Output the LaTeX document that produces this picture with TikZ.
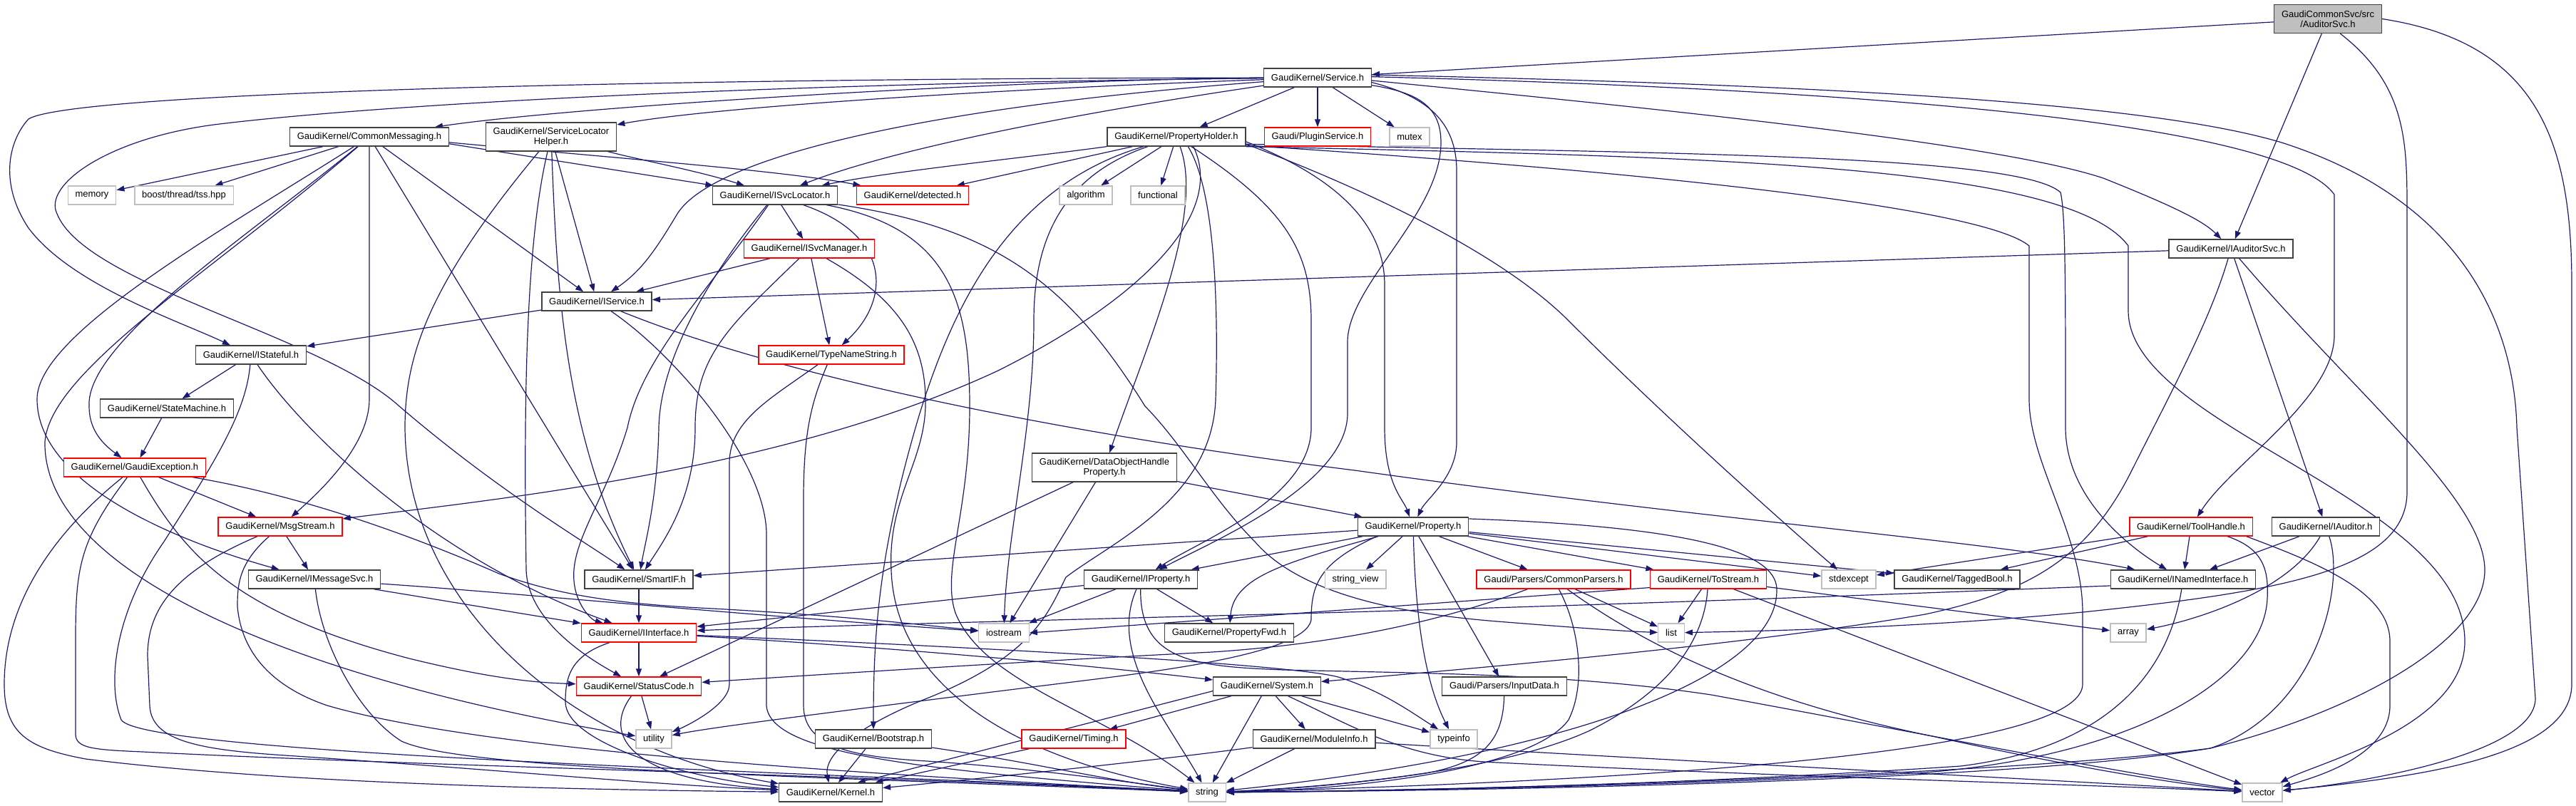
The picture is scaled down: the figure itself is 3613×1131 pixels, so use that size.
\documentclass[tikz,border=0pt]{standalone}
\usepackage{fontspec}
\newfontfamily\gfont{Liberation Sans}
\usetikzlibrary{arrows.meta,backgrounds}
\definecolor{edgeblue}{RGB}{25,25,112}
\begin{document}
\begin{tikzpicture}[x=1pt, y=-1pt,
	doc/.style = {draw=black!75, line width=1.4pt, fill=white, font=\gfont\fontsize{13}{14}\selectfont, inner xsep=10.3pt, inner ysep=3pt, minimum height=26pt},
	trunc/.style = {doc, draw=red},
	ext/.style = {doc, draw=black!25},
	rootn/.style = {doc, fill=black!25},
	dep/.style = {draw=edgeblue, line width=1.2pt, -{Triangle[length=11pt, width=8pt]}}]
	\useasboundingbox (0,0) rectangle (3613,1131);
	\node[rootn, align=center, minimum height=40pt] (root) at (3265,26.5) {GaudiCommonSvc/src\\/AuditorSvc.h};
	\node[doc] (svc) at (1848,109) {GaudiKernel/Service.h};
	\node[doc] (cmsg) at (518,192) {GaudiKernel/CommonMessaging.h};
	\node[doc, align=center, minimum height=40pt] (slh) at (773,192) {GaudiKernel/ServiceLocator\\Helper.h};
	\node[doc] (pholder) at (1650,192) {GaudiKernel/PropertyHolder.h};
	\node[trunc] (plugin) at (1848,192) {Gaudi/PluginService.h};
	\node[ext] (mutex) at (1977,192) {mutex};
	\node[doc] (iauditsvc) at (3129,349) {GaudiKernel/IAuditorSvc.h};
	\node[ext] (memory) at (129,274) {memory};
	\node[ext] (boost) at (258,274) {boost/thread/tss.hpp};
	\node[doc] (isvcloc) at (1087,274) {GaudiKernel/ISvcLocator.h};
	\node[trunc] (detected) at (1280,274) {GaudiKernel/detected.h};
	\node[ext] (algorithm) at (1523,274) {algorithm};
	\node[ext] (functional) at (1624,274) {functional};
	\node[trunc] (isvcmgr) at (1135,349) {GaudiKernel/ISvcManager.h};
	\node[doc] (iservice) at (837,423) {GaudiKernel/IService.h};
	\node[doc] (istateful) at (352,498) {GaudiKernel/IStateful.h};
	\node[trunc] (typename) at (1166,498) {GaudiKernel/TypeNameString.h};
	\node[doc] (statemach) at (234,573) {GaudiKernel/StateMachine.h};
	\node[trunc] (gexcept) at (189,656) {GaudiKernel/GaudiException.h};
	\node[doc, align=center, minimum height=40pt] (dohprop) at (1549,656) {GaudiKernel/DataObjectHandle\\Property.h};
	\node[trunc] (msgstream) at (393,739) {GaudiKernel/MsgStream.h};
	\node[doc] (property) at (1982,739) {GaudiKernel/Property.h};
	\node[trunc] (toolhandle) at (3073,739) {GaudiKernel/ToolHandle.h};
	\node[doc] (iauditor) at (3262,739) {GaudiKernel/IAuditor.h};
	\node[doc] (imsgsvc) at (441,813) {GaudiKernel/IMessageSvc.h};
	\node[doc] (smartif) at (896,813) {GaudiKernel/SmartIF.h};
	\node[doc] (iproperty) at (1600,813) {GaudiKernel/IProperty.h};
	\node[ext] (strview) at (1901,813) {string\_view};
	\node[trunc] (cparsers) at (2179,813) {Gaudi/Parsers/CommonParsers.h};
	\node[trunc] (tostream) at (2396,813) {GaudiKernel/ToStream.h};
	\node[ext] (stdexcept) at (2593,813) {stdexcept};
	\node[doc] (taggedbool) at (2745,813) {GaudiKernel/TaggedBool.h};
	\node[doc] (inamed) at (3062,813) {GaudiKernel/INamedInterface.h};
	\node[trunc] (iinterface) at (896,888) {GaudiKernel/IInterface.h};
	\node[ext] (iostream) at (1408,888) {iostream};
	\node[doc] (propfwd) at (1724,888) {GaudiKernel/PropertyFwd.h};
	\node[ext] (list) at (2344,888) {list};
	\node[ext] (array) at (2985,888) {array};
	\node[trunc] (statuscode) at (896,963) {GaudiKernel/StatusCode.h};
	\node[doc] (system) at (1777,963) {GaudiKernel/System.h};
	\node[doc] (inputdata) at (2110,963) {Gaudi/Parsers/InputData.h};
	\node[ext] (utility) at (917,1037) {utility};
	\node[doc] (bootstrap) at (1225,1037) {GaudiKernel/Bootstrap.h};
	\node[trunc] (timing) at (1506,1037) {GaudiKernel/Timing.h};
	\node[doc] (modinfo) at (1843,1037) {GaudiKernel/ModuleInfo.h};
	\node[ext] (typeinfo) at (2039,1037) {typeinfo};
	\node[doc] (kernel) at (1165,1112) {GaudiKernel/Kernel.h};
	\node[ext] (string) at (1693,1112) {string};
	\node[ext] (vector) at (3173,1112) {vector};
	\begin{scope}[on background layer]
	\draw[dep] (root) -- (svc);
	\draw[dep] (root) -- (iauditsvc);
	\draw[dep] (root.-50) .. controls (3376,120) and (3376,200) .. (3376,300) -- (3376,690) .. controls (3376,800) and (3200,830) .. (2921,859) .. controls (2700,880) and (2500,885) .. (list);
	\draw[dep] (root.east) .. controls (3560,60) and (3607,200) .. (3607,400) -- (3607,960) .. controls (3607,1060) and (3400,1090) .. (vector);
	\draw[dep] (svc) .. controls (1400,112) and (800,150) .. (cmsg);
	\draw[dep] (svc) .. controls (1400,125) and (1000,150) .. (slh);
	\draw[dep] (svc) .. controls (900,110) and (100,130) .. (40,167) .. controls (10,200) and (0,260) .. (40,320) .. controls (100,400) and (250,450) .. (istateful);
	\draw[dep] (svc) .. controls (1000,118) and (500,150) .. (300,175) .. controls (150,195) and (60,260) .. (80,300) .. controls (120,400) and (450,470) .. (560,570) .. controls (700,690) and (820,760) .. (smartif);
	\draw[dep] (svc) .. controls (1500,160) and (1250,210) .. (isvcloc);
	\draw[dep] (svc) .. controls (1300,150) and (1000,220) .. (950,300) .. controls (920,350) and (900,380) .. (iservice);
	\draw[dep] (svc) -- (pholder);
	\draw[dep] (svc) -- (plugin);
	\draw[dep] (svc) -- (mutex);
	\draw[dep] (svc.-8) .. controls (1990,130) and (2021,150) .. (2021,200) .. controls (2021,300) and (1890,400) .. (1890,480) -- (1890,580) .. controls (1890,680) and (1700,760) .. (iproperty);
	\draw[dep] (svc.-5) .. controls (2000,135) and (2043,170) .. (2043,240) -- (2043,620) .. controls (2043,670) and (2000,700) .. (property);
	\draw[dep] (svc.-3) .. controls (2300,150) and (2800,200) .. (2950,250) .. controls (3050,290) and (3090,310) .. (iauditsvc);
	\draw[dep] (svc.3) .. controls (2500,118) and (3000,140) .. (3200,200) .. controls (3450,280) and (3526,450) .. (3530,600) -- (3556,980) .. controls (3556,1060) and (3300,1100) .. (vector);
	\draw[dep] (svc.1) .. controls (2600,125) and (3200,170) .. (3274,273) -- (3274,470) .. controls (3274,560) and (3130,650) .. (toolhandle);
	\draw[dep] (pholder) -- (detected);
	\draw[dep] (pholder) .. controls (1450,220) and (1250,240) .. (isvcloc);
	\draw[dep] (pholder) -- (algorithm);
	\draw[dep] (pholder) -- (functional);
	\draw[dep] (pholder) .. controls (1690,300) and (1610,480) .. (dohprop);
	\draw[dep] (pholder) .. controls (1480,250) and (1450,350) .. (1450,450) .. controls (1450,600) and (1412,750) .. (iostream);
	\draw[dep] (pholder) .. controls (1420,260) and (1340,420) .. (1290,580) .. controls (1230,780) and (1225,900) .. (bootstrap);
	\draw[dep] (pholder.-30) .. controls (1720,300) and (1600,420) .. (1400,520) .. controls (1100,660) and (700,700) .. (msgstream);
	\draw[dep] (pholder.-40) .. controls (1700,260) and (1710,400) .. (1705,560) .. controls (1700,700) and (1560,760) .. (1495,810) .. controls (1470,860) and (1450,920) .. (1300,980) .. controls (1200,1020) and (1155,1060) .. (kernel);
	\draw[dep] (pholder.-6) .. controls (1900,260) and (2100,350) .. (2200,450) .. controls (2350,600) and (2520,750) .. (stdexcept);
	\draw[dep] (pholder.-6) .. controls (2300,215) and (2830,215) .. (2890,270) .. controls (2897,300) and (2897,400) .. (2897,600) .. controls (2897,700) and (2990,770) .. (inamed);
	\draw[dep] (pholder.-7) .. controls (2300,240) and (2780,290) .. (2846,345) -- (2846,560) .. controls (2846,650) and (2921,750) .. (2921,860) -- (2921,960) .. controls (2921,1040) and (2500,1090) .. (string);
	\draw[dep] (pholder.-8) .. controls (2400,220) and (2900,230) .. (2985,345) -- (2985,436) .. controls (2985,600) and (3457,700) .. (3457,900) .. controls (3457,1020) and (3250,1070) .. (vector);
	\draw[dep] (pholder.-4) .. controls (1850,240) and (1942,300) .. (1942,400) -- (1942,600) .. controls (1942,680) and (1968,700) .. (property);
	\draw[dep] (pholder) .. controls (1800,290) and (1839,350) .. (1839,450) -- (1839,600) .. controls (1839,700) and (1680,760) .. (iproperty);
	\draw[dep] (cmsg) -- (memory);
	\draw[dep] (cmsg) -- (boost);
	\draw[dep] (cmsg) .. controls (300,330) and (52,470) .. (52,560) .. controls (52,680) and (250,760) .. (imsgsvc);
	\draw[dep] (cmsg) .. controls (300,380) and (70,520) .. (63,620) .. controls (60,800) and (400,950) .. (utility);
	\draw[dep] (cmsg) .. controls (350,330) and (120,480) .. (125,570) .. controls (125,600) and (140,620) .. (gexcept);
	\draw[dep] (cmsg) -- (518,560) .. controls (518,620) and (460,680) .. (msgstream);
	\draw[dep] (cmsg) -- (smartif);
	\draw[dep] (cmsg) -- (iservice);
	\draw[dep] (cmsg.-5) -- (isvcloc);
	\draw[dep] (cmsg.-4) .. controls (900,225) and (1100,240) .. (detected);
	\draw[dep] (slh) .. controls (900,225) and (980,240) .. (isvcloc);
	\draw[dep] (slh) -- (iservice);
	\draw[dep] (slh) .. controls (781,400) and (790,600) .. (smartif);
	\draw[dep] (slh) .. controls (735,350) and (735,600) .. (738,800) .. controls (740,860) and (800,910) .. (statuscode);
	\draw[dep] (slh) .. controls (600,400) and (568,500) .. (568,600) .. controls (570,850) and (800,1050) .. (kernel);
	\draw[dep] (isvcloc) -- (isvcmgr);
	\draw[dep] (isvcloc) .. controls (1250,330) and (1250,420) .. (typename);
	\draw[dep] (isvcloc) .. controls (1330,320) and (1360,420) .. (1360,570) .. controls (1360,720) and (1320,800) .. (1340,860) .. controls (1380,960) and (1550,1000) .. (string);
	\draw[dep] (isvcloc) .. controls (1400,320) and (1500,400) .. (1606,570) .. controls (1660,625) and (1700,700) .. (1760,760) .. controls (1820,830) and (1950,860) .. (2100,872) .. controls (2200,880) and (2280,886) .. (list);
	\draw[dep] (isvcloc) .. controls (1000,400) and (900,500) .. (880,600) .. controls (850,700) and (800,760) .. (805,815) .. controls (808,850) and (830,870) .. (iinterface);
	\draw[dep] (isvcloc) .. controls (1000,380) and (926,500) .. (924,600) .. controls (922,700) and (905,760) .. (smartif);
	\draw[dep] (isvcmgr) -- (iservice);
	\draw[dep] (isvcmgr) .. controls (1020,460) and (975,500) .. (975,600) .. controls (975,700) and (930,760) .. (smartif);
	\draw[dep] (isvcmgr) -- (typename);
	\draw[dep] (isvcmgr) .. controls (1260,420) and (1300,480) .. (1298,570) .. controls (1296,650) and (1245,700) .. (1250,800) .. controls (1255,950) and (1400,1060) .. (string);
	\draw[dep] (typename) .. controls (1080,560) and (1023,590) .. (1023,650) -- (1023,960) .. controls (1023,990) and (960,1020) .. (utility);
	\draw[dep] (typename) .. controls (1140,560) and (1127,600) .. (1127,700) -- (1127,990) .. controls (1127,1050) and (1200,1062) .. (1300,1068) .. controls (1450,1078) and (1600,1100) .. (string);
	\draw[dep] (iservice) -- (istateful);
	\draw[dep] (iservice) .. controls (1100,530) and (1500,610) .. (1900,660) .. controls (2400,730) and (2800,760) .. (inamed);
	\draw[dep] (iservice) .. controls (950,500) and (1075,650) .. (1075,750) -- (1075,990) .. controls (1080,1060) and (1300,1080) .. (string);
	\draw[dep] (istateful) -- (statemach);
	\draw[dep] (istateful) .. controls (420,600) and (600,780) .. (iinterface);
	\draw[dep] (istateful) .. controls (345,580) and (300,650) .. (230,760) .. controls (160,860) and (150,960) .. (170,1010) .. controls (200,1060) and (1200,1085) .. (string);
	\draw[dep] (statemach) -- (gexcept);
	\draw[dep] (gexcept) .. controls (60,760) and (6,860) .. (6,960) .. controls (6,1030) and (40,1050) .. (120,1065) .. controls (400,1100) and (800,1108) .. (kernel);
	\draw[dep] (gexcept) .. controls (110,760) and (106,800) .. (106,900) -- (106,1030) .. controls (106,1050) and (130,1052) .. (200,1055) .. controls (600,1075) and (1200,1088) .. (string);
	\draw[dep] (gexcept) .. controls (260,780) and (330,860) .. (574,924) .. controls (700,955) and (760,958) .. (statuscode);
	\draw[dep] (gexcept) -- (msgstream);
	\draw[dep] (gexcept) .. controls (450,700) and (620,770) .. (700,805) .. controls (790,838) and (880,848) .. (1000,854) .. controls (1200,865) and (1300,878) .. (iostream);
	\draw[dep] (msgstream) -- (imsgsvc);
	\draw[dep] (msgstream) .. controls (250,800) and (207,851) .. (207,920) -- (210,990) .. controls (212,1040) and (280,1052) .. (400,1060) .. controls (700,1080) and (900,1100) .. (kernel);
	\draw[dep] (msgstream) .. controls (335,790) and (333,820) .. (333,851) .. controls (340,930) and (400,970) .. (459,990) .. controls (700,1060) and (1300,1090) .. (string);
	\draw[dep] (imsgsvc) -- (iinterface);
	\draw[dep] (imsgsvc) .. controls (700,830) and (1000,860) .. (iostream);
	\draw[dep] (imsgsvc) .. controls (450,900) and (500,1000) .. (563,1040) .. controls (650,1080) and (1100,1088) .. (string);
	\draw[dep] (smartif) -- (iinterface);
	\draw[dep] (iinterface) -- (statuscode);
	\draw[dep] (iinterface) .. controls (800,920) and (793,950) .. (793,985) .. controls (793,1040) and (950,1090) .. (kernel);
	\draw[dep] (iinterface) .. controls (1200,905) and (1500,930) .. (system);
	\draw[dep] (iinterface) .. controls (1300,905) and (1800,930) .. (1877,950) .. controls (1940,970) and (1980,1000) .. (typeinfo);
	\draw[dep] (statuscode) -- (utility);
	\draw[dep] (statuscode) .. controls (845,1030) and (880,1095) .. (kernel);
	\draw[dep] (system.185) -- (kernel.20);
	\draw[dep] (system) -- (timing);
	\draw[dep] (system) -- (string);
	\draw[dep] (system) -- (modinfo);
	\draw[dep] (system) -- (typeinfo);
	\draw[dep] (system) .. controls (1900,1020) and (1970,1065) .. (2100,1070) .. controls (2500,1090) and (2900,1100) .. (vector);
	\draw[dep] (timing) -- (kernel);
	\draw[dep] (modinfo) -- (string);
	\draw[dep] (modinfo) .. controls (1600,1070) and (1300,1100) .. (kernel);
	\draw[dep] (modinfo) .. controls (2300,1065) and (2800,1090) .. (vector);
	\draw[dep] (bootstrap) -- (kernel);
	\draw[dep] (bootstrap) .. controls (1450,1070) and (1550,1095) .. (string);
	\draw[dep] (dohprop) -- (property);
	\draw[dep] (dohprop) -- (iostream);
	\draw[dep] (dohprop) -- (statuscode);
	\draw[dep] (iproperty) -- (iinterface);
	\draw[dep] (iproperty) -- (iostream);
	\draw[dep] (iproperty) -- (propfwd);
	\draw[dep] (iproperty) .. controls (1575,870) and (1580,920) .. (1620,990) .. controls (1650,1040) and (1670,1070) .. (string);
	\draw[dep] (iproperty) .. controls (1598,930) and (1680,935) .. (1800,940) .. controls (2000,945) and (2200,945) .. (2400,975) .. controls (2700,1030) and (3000,1090) .. (vector);
	\draw[dep] (property) -- (smartif);
	\draw[dep] (property) -- (iproperty);
	\draw[dep] (property) .. controls (1800,790) and (1730,810) .. (propfwd);
	\draw[dep] (property.-165) .. controls (1850,790) and (1839,820) .. (1839,870) .. controls (1830,920) and (1600,945) .. (1480,960) .. controls (1200,995) and (1000,1020) .. (utility);
	\draw[dep] (property) -- (strview);
	\draw[dep] (property) .. controls (1985,850) and (1995,950) .. (typeinfo);
	\draw[dep] (property) -- (inputdata);
	\draw[dep] (property) -- (cparsers);
	\draw[dep] (property) -- (tostream);
	\draw[dep] (property) -- (stdexcept);
	\draw[dep] (property) -- (taggedbool);
	\draw[dep] (property.8) .. controls (2400,740) and (2495,780) .. (2492,830) .. controls (2490,950) and (2200,1060) .. (string);
	\draw[dep] (cparsers) .. controls (2000,880) and (1850,905) .. (1700,915) .. controls (1400,930) and (1100,950) .. (statuscode);
	\draw[dep] (cparsers) -- (list);
	\draw[dep] (cparsers) .. controls (2215,880) and (2225,960) .. (2200,1010) .. controls (2150,1080) and (1900,1108) .. (string);
	\draw[dep] (cparsers) .. controls (2300,900) and (2450,980) .. (2710,1033) .. controls (2900,1075) and (3050,1100) .. (vector);
	\draw[dep] (tostream.188) -- (iostream.east);
	\draw[dep] (tostream) -- (list);
	\draw[dep] (tostream) .. controls (2390,900) and (2340,970) .. (2230,1025) .. controls (2100,1085) and (1850,1105) .. (string);
	\draw[dep] (tostream) -- (array);
	\draw[dep] (tostream) -- (vector);
	\draw[dep] (inputdata) .. controls (2108,1040) and (2080,1070) .. (2000,1085) .. controls (1900,1100) and (1800,1108) .. (string);
	\draw[dep] (toolhandle) -- (stdexcept);
	\draw[dep] (toolhandle) -- (taggedbool);
	\draw[dep] (toolhandle) -- (inamed);
	\draw[dep] (toolhandle.-15) .. controls (3175,770) and (3182,800) .. (3180,840) .. controls (3175,950) and (3000,1060) .. (2700,1084) .. controls (2300,1105) and (1900,1110) .. (string);
	\draw[dep] (toolhandle.-10) .. controls (3250,790) and (3352,830) .. (3352,900) -- (3352,990) .. controls (3352,1060) and (3250,1090) .. (vector);
	\draw[dep] (iauditor) -- (inamed);
	\draw[dep] (iauditor) .. controls (3210,830) and (3080,870) .. (array);
	\draw[dep] (iauditor) .. controls (3290,820) and (3250,1000) .. (3100,1050) .. controls (2800,1100) and (2000,1110) .. (string);
	\draw[dep] (inamed.185) .. controls (2700,832) and (2300,848) .. (1780,862) .. controls (1400,872) and (1100,880) .. (iinterface);
	\draw[dep] (inamed) .. controls (3040,950) and (2950,1050) .. (2750,1075) .. controls (2300,1105) and (1900,1110) .. (string);
	\draw[dep] (iauditsvc) -- (iservice);
	\draw[dep] (iauditsvc) .. controls (3100,450) and (3040,560) .. (2990,660) .. controls (2930,780) and (2850,830) .. (2700,862) .. controls (2450,905) and (2100,935) .. (system);
	\draw[dep] (iauditsvc) -- (iauditor);
	\draw[dep] (iauditsvc) .. controls (3300,550) and (3485,700) .. (3485,800) .. controls (3485,900) and (3300,1000) .. (3100,1050) .. controls (2800,1090) and (2000,1110) .. (string);
	\end{scope}
\end{tikzpicture}
\end{document}
